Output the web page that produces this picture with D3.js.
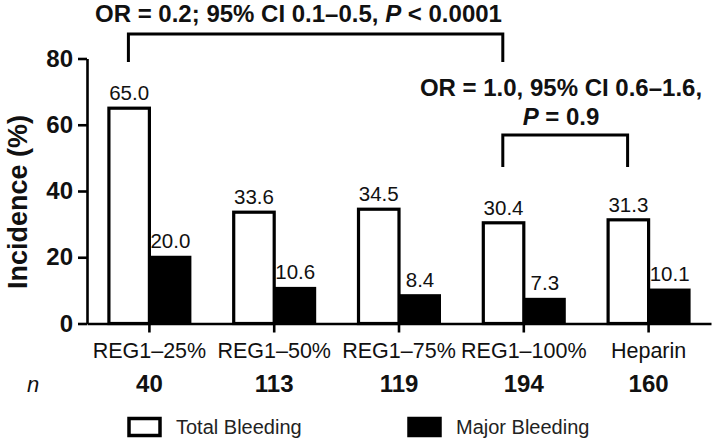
<!DOCTYPE html>
<html>
<head>
<meta charset="utf-8">
<script src="https://cdn.jsdelivr.net/npm/d3@7"></script>
<style>
  html, body { margin: 0; padding: 0; background: #fff; }
  svg { display: block; font-family: "Liberation Sans", Arial, Helvetica, sans-serif; }
</style>
</head>
<body>
<svg id="chart" width="720" height="444"></svg>
<script>
const categories = ["REG1–25%", "REG1–50%", "REG1–75%", "REG1–100%", "Heparin"];
const totalBleeding = [65.0, 33.6, 34.5, 30.4, 31.3];
const majorBleeding = [20.0, 10.6, 8.4, 7.3, 10.1];
const nValues = [40, 113, 119, 194, 160];
const yTicks = [0, 20, 40, 60, 80];
const seriesNames = ["Total Bleeding", "Major Bleeding"];

const svg = d3.select("#chart");
const plotLeft = 87, plotRight = 711, plotTop = 58.5, plotBottom = 323.5;

const x = d3.scaleBand().domain(categories).range([plotLeft, plotRight])
  .paddingInner(0.327).paddingOuter(0.1635);
const xs = d3.scaleBand().domain(seriesNames).range([0, x.bandwidth()]);
const y = d3.scaleLinear().domain([0, 80]).range([plotBottom, plotTop]);

const rows = categories.map((c, i) => ({cat: c, total: totalBleeding[i], major: majorBleeding[i], n: nValues[i]}));

// bars
const g = svg.append("g");
rows.forEach(r => {
  const x0 = x(r.cat);
  g.append("rect")
    .attr("x", x0 + xs("Total Bleeding") + 1.5)
    .attr("y", y(r.total))
    .attr("width", xs.bandwidth() - 1.5)
    .attr("height", y(0) - y(r.total))
    .attr("fill", "#fff").attr("stroke", "#000").attr("stroke-width", 3.2);
  g.append("rect")
    .attr("x", x0 + xs("Major Bleeding"))
    .attr("y", y(r.major) - 1.5)
    .attr("width", xs.bandwidth())
    .attr("height", y(0) - y(r.major) + 1.5)
    .attr("fill", "#000");
  g.append("text")
    .attr("x", x0 + xs("Total Bleeding") + xs.bandwidth() / 2 + 0.75)
    .attr("y", y(r.total) - 8)
    .attr("text-anchor", "middle").attr("font-size", 20.5).attr("fill", "#111")
    .text(r.total.toFixed(1));
  g.append("text")
    .attr("x", x0 + xs("Major Bleeding") + xs.bandwidth() / 2)
    .attr("y", y(r.major) - 9)
    .attr("text-anchor", "middle").attr("font-size", 20.5).attr("fill", "#111")
    .text(r.major.toFixed(1));
});

// axes
const yAxis = d3.axisLeft(y).tickValues(yTicks).tickSize(9).tickSizeOuter(0).tickPadding(5);
const ya = svg.append("g").attr("transform", `translate(${plotLeft},0)`).call(yAxis);
ya.select(".domain").attr("stroke", "#000").attr("stroke-width", 2.6);
ya.selectAll(".tick line").attr("stroke", "#000").attr("stroke-width", 2.6);
ya.selectAll(".tick text").attr("font-size", 24).attr("font-weight", "bold").attr("fill", "#111")
  .attr("font-family", "Liberation Sans, Arial, sans-serif");

const xAxis = d3.axisBottom(x).tickSize(9).tickSizeOuter(0).tickFormat("");
const xa = svg.append("g").attr("transform", `translate(0,${plotBottom})`).call(xAxis);
xa.select(".domain").attr("stroke", "#000").attr("stroke-width", 2.6);
xa.selectAll(".tick line").attr("stroke", "#000").attr("stroke-width", 2.6);

// category labels
svg.append("g").selectAll("text").data(rows).join("text")
  .attr("x", d => x(d.cat) + x.bandwidth() / 2)
  .attr("y", 358)
  .attr("text-anchor", "middle").attr("font-size", 21.5).attr("fill", "#111")
  .text(d => d.cat);

// n row
svg.append("text").attr("x", 27).attr("y", 392)
  .attr("font-size", 22).attr("font-style", "italic").attr("fill", "#111").text("n");
svg.append("g").selectAll("text").data(rows).join("text")
  .attr("x", d => x(d.cat) + x.bandwidth() / 2)
  .attr("y", 392)
  .attr("text-anchor", "middle").attr("font-size", 24).attr("font-weight", "bold").attr("fill", "#111")
  .text(d => d.n);

// y title
svg.append("text")
  .attr("transform", `translate(26.5,202) rotate(-90)`)
  .attr("text-anchor", "middle").attr("font-size", 27).attr("font-weight", "bold").attr("fill", "#111")
  .text("Incidence (%)");

// brackets
function bracket(c1, c2, yTop, yBot) {
  const x1 = x(c1) + xs("Total Bleeding") + xs.bandwidth() / 2;
  const x2 = x(c2) + xs("Total Bleeding") + xs.bandwidth() / 2;
  svg.append("path")
    .attr("d", `M${x1},${yBot}V${yTop}H${x2}V${yBot}`)
    .attr("fill", "none").attr("stroke", "#000").attr("stroke-width", 3);
  return (x1 + x2) / 2;
}
bracket(categories[0], categories[3], 34, 62);
bracket(categories[3], categories[4], 135, 167);

const t1 = svg.append("text").attr("x", 95).attr("y", 22)
  .attr("font-size", 24).attr("font-weight", "bold").attr("fill", "#111");
t1.append("tspan").text("OR = 0.2; 95% CI 0.1–0.5, ");
t1.append("tspan").attr("font-style", "italic").text("P");
t1.append("tspan").text(" < 0.0001");

svg.append("text").attr("x", 561).attr("y", 96).attr("text-anchor", "middle")
  .attr("font-size", 24).attr("font-weight", "bold").attr("fill", "#111")
  .text("OR = 1.0, 95% CI 0.6–1.6,");
const t3 = svg.append("text").attr("x", 561).attr("y", 125).attr("text-anchor", "middle")
  .attr("font-size", 24).attr("font-weight", "bold").attr("fill", "#111");
t3.append("tspan").attr("font-style", "italic").text("P");
t3.append("tspan").text(" = 0.9");

// legend
const legend = svg.append("g");
const legItems = [
  {name: seriesNames[0], x: 129, fill: "#fff"},
  {name: seriesNames[1], x: 409, fill: "#000"}
];
legItems.forEach(it => {
  legend.append("rect").attr("x", it.x).attr("y", 418.5).attr("width", 31).attr("height", 17)
    .attr("fill", it.fill).attr("stroke", "#000").attr("stroke-width", 3.5);
  legend.append("text").attr("x", it.x + 47).attr("y", 434)
    .attr("font-size", 20).attr("fill", "#222").text(it.name);
});
</script>
</body>
</html>
